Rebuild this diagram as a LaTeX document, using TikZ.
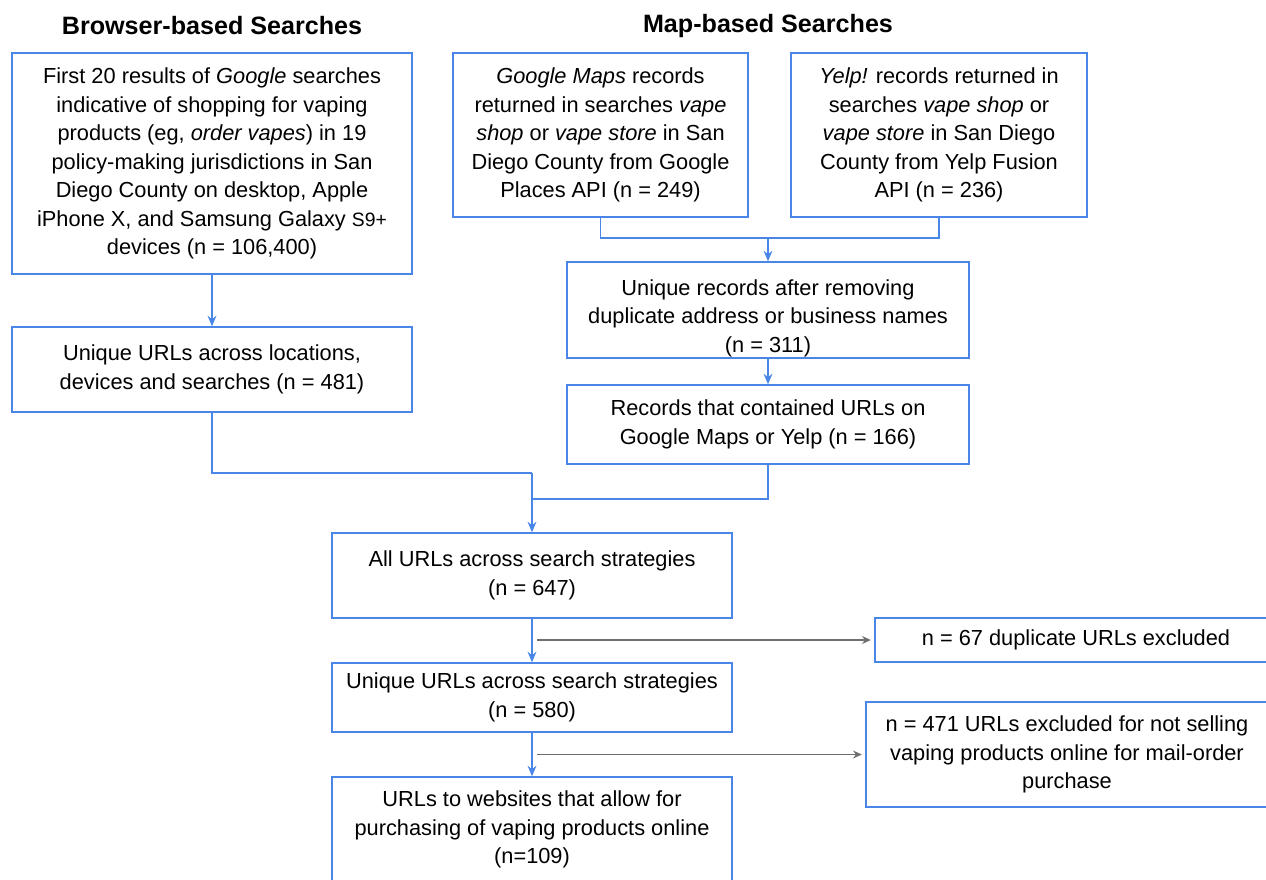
\documentclass[tikz,border=0pt]{standalone}
\usepackage{fontspec}
\setmainfont{Liberation Sans}
\usepackage{tikz}
\usetikzlibrary{positioning, arrows, arrows.meta, calc}
\definecolor{flowblue}{HTML}{4A86E8}
\definecolor{exclgray}{HTML}{6F6F6F}
\tikzset{
    box/.style={draw=flowblue, line width=0.8pt, fill=white, align=center, inner sep=2pt,
      font=\fontsize{12.4}{16.2}\selectfont},
    heading/.style={font=\fontsize{14.3}{17}\selectfont\bfseries},
    link/.style={draw=flowblue, line width=0.75pt},
    excl/.style={draw=exclgray, line width=1pt, -{Stealth[length=5pt, width=4.5pt]}, shorten >=2pt},
}

\begin{document}
\begin{tikzpicture}[x=0.02cm, y=-0.02cm, >={Stealth[length=6pt, width=5pt]}]
    \useasboundingbox (0,0) rectangle (1266,879);
    \clip (0,0) rectangle (1266,879);

    \node[heading] (hbrowser) at (212,26) {Browser-based Searches};
    \node[heading] (hmap) at (768,26) {Map-based Searches};

    % browser side
    \node[box, minimum width=8cm, minimum height=4.42cm] (srch) at (212,163.5)
      {First 20 results of \textit{Google} searches\\ indicative of shopping for vaping\\
       products (eg, \textit{order vapes}) in 19\\ policy-making jurisdictions in San\\
       Diego County on desktop, Apple\\ iPhone X, and Samsung Galaxy {\fontsize{11}{16.2}\selectfont S9+}\\
       devices (n = 106,400)};
    \node[box, minimum width=8cm, minimum height=1.7cm] (uurls) at (212,369.5)
      {Unique URLs across locations,\\ devices and searches (n = 481)};

    % map side
    \node[box, minimum width=5.9cm, minimum height=3.28cm] (gmaps) at (600.5,135)
      {\textit{Google Maps} records\\ returned in searches \textit{vape}\\
       \textit{shop} or \textit{vape store} in San\\ Diego County from Google\\ Places API (n = 249)};
    \node[box, minimum width=5.92cm, minimum height=3.28cm] (yelp) at (939,135)
      {\textit{Yelp!} records returned in\\ searches \textit{vape shop} or\\
       \textit{vape store} in San Diego\\ County from Yelp Fusion\\ API (n = 236)};
    \node[box, inner ysep=0pt, minimum width=8.04cm, minimum height=1.92cm] (urecs) at (768,310)
      {\rule{0pt}{18pt}Unique records after removing\\ duplicate address or business names\\ (n = 311)};
    \node[box, minimum width=8.04cm, minimum height=1.58cm] (urlrecs) at (768,424.5)
      {Records that contained URLs on\\ Google Maps or Yelp (n = 166)};

    % merged
    \node[box, minimum width=8cm, minimum height=1.7cm] (allurls) at (532,575.5)
      {All URLs across search strategies\\ (n = 647)};
    \node[box, minimum width=8cm, minimum height=1.38cm] (uniqurls) at (532,697.5)
      {Unique URLs across search strategies\\ (n = 580)};
    \node[box, minimum width=8cm, minimum height=2.1cm] (buyurls) at (532,829.5)
      {URLs to websites that allow for\\ purchasing of vaping products online\\ (n=109)};
    \node[box, minimum width=8.04cm, minimum height=0.88cm] (dupx) at (1076,640)
      {n = 67 duplicate URLs excluded};
    \node[box, minimum width=8.04cm, minimum height=2.1cm] (sellx) at (1067,754.5)
      {n = 471 URLs excluded for not selling\\ vaping products online for mail-order\\ purchase};

    \coordinate (mjoin) at (768,238);
    \coordinate (ljoin) at (532,473);
    \coordinate (rjoin) at (532,499);
    \coordinate (dupfrom) at (537,640);
    \coordinate (sellfrom) at (537,754.5);

    \draw[link, ->] (srch) -- (uurls);
    \draw[link] (gmaps.south) |- (mjoin) -| (yelp.south);
    \draw[link, ->] (mjoin) -- (urecs);
    \draw[link, ->] (urecs) -- (urlrecs);
    \draw[link] (uurls.south) |- (ljoin);
    \draw[link] (urlrecs.south) |- (rjoin);
    \draw[link, ->] (ljoin) -- (allurls);
    \draw[link, ->] (allurls) -- (uniqurls);
    \draw[link, ->] (uniqurls) -- (buyurls);
    \draw[excl] (dupfrom) -- (dupx.west);
    \draw[excl] (sellfrom) -- (sellx.west);
\end{tikzpicture}
\end{document}
